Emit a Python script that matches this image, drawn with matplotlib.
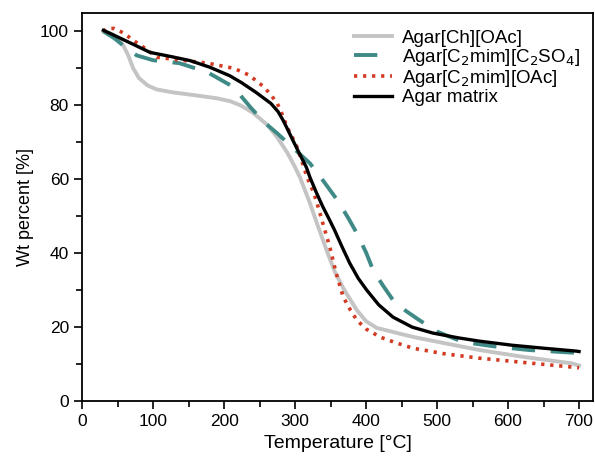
import matplotlib
matplotlib.use("Agg")
import matplotlib.pyplot as plt
from matplotlib.ticker import MultipleLocator

plt.rcParams['font.family'] = ['Liberation Sans', 'DejaVu Sans']

# values (temperature in C, weight %)
ch_oac_t = [30, 38, 45, 52, 58, 65, 72, 80, 92, 105, 128, 160, 190, 209, 223, 240, 261, 275, 289, 298, 307, 313, 321, 330, 345, 356, 368, 387, 400, 415, 448, 470, 520, 560, 620, 690, 700]
ch_oac_w = [100, 99.6, 99, 97.6, 96.2, 93.5, 90, 87.4, 85.4, 84.3, 83.5, 82.7, 81.9, 81.1, 80.0, 78.1, 74.7, 71.3, 67.2, 64, 60.5, 57.5, 53.5, 48.5, 40.5, 35, 30.5, 24.6, 21.6, 19.8, 18.2, 17.2, 15.3, 13.8, 12, 10.2, 9.6]

c2so4_t = [30, 45, 63, 77, 100, 137, 176, 213, 237, 256, 275, 300, 321, 340, 359, 375, 387, 400, 410, 424, 438, 456, 475, 500, 536, 580, 630, 700]
c2so4_w = [100, 98.2, 95.4, 93.5, 92.2, 91.4, 89, 85, 79.5, 75.5, 72.4, 68, 64.3, 59.5, 54.5, 49.5, 45.4, 40.2, 35.4, 31.2, 27.3, 24.4, 21.9, 18.8, 16, 14.8, 13.8, 13]

c2oac_t = [30, 35, 45, 58, 72, 88, 106, 140, 177, 214, 235, 256, 266, 275, 282, 289, 296, 303, 310, 317, 326, 331, 340, 349, 358, 368, 378, 387, 400, 420, 440, 466, 510, 560, 630, 690, 700]
c2oac_w = [100, 100.8, 100.8, 99.6, 97.6, 95.5, 93, 92.2, 91.4, 90, 88.2, 85, 82.8, 80.5, 77.5, 74, 71.4, 68.6, 64.6, 60.5, 56.5, 53.5, 47.5, 41.6, 34.5, 28.1, 24.6, 21.9, 19.5, 17.3, 15.9, 14.3, 12.8, 11.6, 10.3, 9.2, 9]

matrix_t = [30, 60, 96, 125, 152, 180, 208, 224, 245, 266, 276, 283, 290, 297, 306, 316, 321, 330, 339, 347, 355, 366, 377, 389, 401, 418, 438, 465, 494, 530, 560, 606, 650, 697, 700]
matrix_w = [100.3, 97.6, 94.3, 93.2, 92.1, 90.3, 88.0, 86.2, 83.5, 80.5, 78.3, 76, 73.3, 70.5, 67, 63.2, 60.5, 56.4, 52.6, 49.6, 46.5, 41.8, 37.3, 33.2, 30, 26, 22.7, 20, 18.4, 17.1, 16.2, 15.1, 14.3, 13.5, 13.4]

labels = ['Agar[Ch][OAc]',
          r'Agar[C$_2$mim][C$_2$SO$_4$]',
          r'Agar[C$_2$mim][OAc]',
          'Agar matrix']

fig = plt.figure(figsize=(5.95, 4.61), dpi=100)
ax = fig.add_axes([0.138, 0.130, 0.859, 0.842])

ax.plot(ch_oac_t, ch_oac_w, color='#c4c4c4', lw=2.8, label=labels[0])
ax.plot(c2so4_t, c2so4_w, color='#3f8a86', lw=2.8, dashes=(6, 4), label=labels[1])
ax.plot(c2oac_t, c2oac_w, color='#d23a22', lw=2.6, dashes=(0.9, 1.6), label=labels[2])
ax.plot(matrix_t, matrix_w, color='black', lw=2.4, label=labels[3])

ax.set_xlim(0, 720)
ax.set_ylim(0, 105)
ax.xaxis.set_major_locator(MultipleLocator(100))
ax.xaxis.set_minor_locator(MultipleLocator(50))
ax.yaxis.set_major_locator(MultipleLocator(20))
ax.yaxis.set_minor_locator(MultipleLocator(10))
ax.tick_params(which='both', direction='out', top=False, right=False, labelsize=12.5, width=1.2)
ax.tick_params(which='major', length=6)
ax.tick_params(which='minor', length=4)
for s in ax.spines.values():
    s.set_linewidth(1.3)

ax.set_xlabel('Temperature [°C]', fontsize=14)
ax.set_ylabel('Wt percent [%]', fontsize=13)

ax.legend(loc='upper right', frameon=False, fontsize=13.5, handlelength=2.0,
          handletextpad=0.55, labelspacing=0.0, borderaxespad=0.3,
          bbox_to_anchor=(1.0, 0.99))

fig.savefig('out.png', dpi=100)
